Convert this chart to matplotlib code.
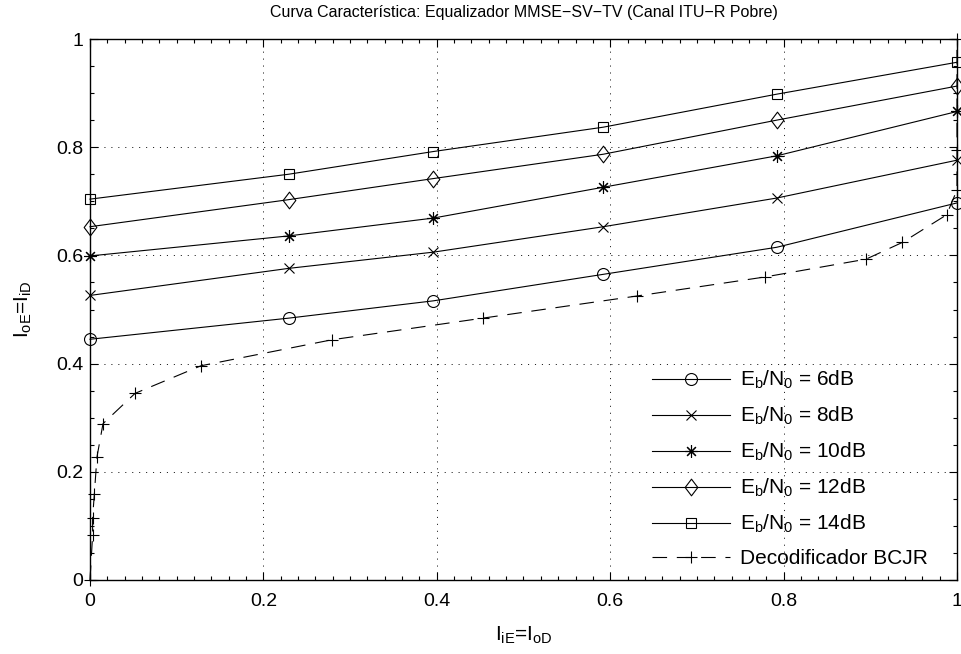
import matplotlib
matplotlib.use("Agg")
import matplotlib.pyplot as plt
from matplotlib.ticker import MultipleLocator, FixedLocator, FixedFormatter
from matplotlib.path import Path

plt.rcParams['font.family'] = ['Liberation Sans', 'DejaVu Sans']
plt.rcParams['mathtext.fontset'] = 'custom'
plt.rcParams['mathtext.rm'] = 'Liberation Sans'
plt.rcParams['mathtext.it'] = 'Liberation Sans'
plt.rcParams['mathtext.default'] = 'regular'
plt.rcParams['lines.scale_dashes'] = False

# ---- data ----
x_eq = [0.0, 0.229, 0.396, 0.592, 0.792, 1.0]
eq_6db = [0.445, 0.484, 0.516, 0.565, 0.615, 0.697]
eq_8db = [0.526, 0.576, 0.606, 0.653, 0.706, 0.776]
eq_10db = [0.599, 0.636, 0.669, 0.726, 0.784, 0.866]
eq_12db = [0.653, 0.703, 0.742, 0.787, 0.850, 0.913]
eq_14db = [0.704, 0.750, 0.792, 0.837, 0.898, 0.957]

bcjr_x = [0.0, 0.003, 0.003, 0.005, 0.008, 0.015, 0.052, 0.128, 0.279, 0.453,
          0.631, 0.778, 0.895, 0.937, 0.988, 1.0, 1.0, 1.0]
bcjr_y = [0.0, 0.083, 0.115, 0.159, 0.227, 0.289, 0.345, 0.396, 0.444, 0.484,
          0.525, 0.560, 0.593, 0.624, 0.675, 0.721, 0.795, 1.0]

labels = [r'$E_b/N_0$ = 6dB', r'$E_b/N_0$ = 8dB', r'$E_b/N_0$ = 10dB',
          r'$E_b/N_0$ = 12dB', r'$E_b/N_0$ = 14dB', 'Decodificador BCJR']
tick_vals = [0, 0.2, 0.4, 0.6, 0.8, 1]
tick_labels = ['0', '0.2', '0.4', '0.6', '0.8', '1']

title = 'Curva Característica: Equalizador MMSE\u2212SV\u2212TV (Canal ITU\u2212R Pobre)'
xlabel = r'$I_{iE}$=$I_{oD}$'
ylabel = r'$I_{oE}$=$I_{iD}$'

# tall diamond like MATLAB
diamond = Path([(0, 1), (0.76, 0), (0, -1), (-0.76, 0), (0, 1)],
               [Path.MOVETO, Path.LINETO, Path.LINETO, Path.LINETO, Path.CLOSEPOLY])

fig = plt.figure(figsize=(9.62, 6.54), dpi=100)
ax = fig.add_axes([90/962, 1-580/654, (957-90)/962, (580-39)/654])

FS = 14
LFS = 15
lw = 0.8
common = dict(color='black', lw=lw, clip_on=False, mfc='none', mec='black', mew=0.8)
ax.plot(x_eq, eq_6db, marker='o', ms=8.6, label=labels[0], **common)
ax.plot(x_eq, eq_8db, marker='x', ms=7, label=labels[1], **common)
ax.plot(x_eq, eq_10db, marker=(8, 2, 0), ms=9, label=labels[2], **common)
ax.plot(x_eq, eq_12db, marker=diamond, ms=12, label=labels[3], **common)
ax.plot(x_eq, eq_14db, marker='s', ms=7.8, label=labels[4], **common)
ax.plot(bcjr_x, bcjr_y, marker='+', ms=9, ls=(0, (10.5, 7)), label=labels[5], **common)

ax.set_xlim(0, 1)
ax.set_ylim(0, 1)
ax.xaxis.set_major_locator(FixedLocator(tick_vals))
ax.xaxis.set_major_formatter(FixedFormatter(tick_labels))
ax.yaxis.set_major_locator(FixedLocator(tick_vals))
ax.yaxis.set_major_formatter(FixedFormatter(tick_labels))
ax.xaxis.set_minor_locator(MultipleLocator(0.02))
ax.yaxis.set_minor_locator(MultipleLocator(0.05))
ax.tick_params(which='both', direction='in', top=True, right=True, width=0.8,
               labelsize=FS, colors='black')
ax.tick_params(axis='x', which='major', length=5.5, pad=9)
ax.tick_params(axis='y', which='major', length=5.5, pad=5)
ax.tick_params(which='minor', length=3)
for s in ax.spines.values():
    s.set_linewidth(1.0)
ax.grid(True, which='major', color='black', ls=(0, (0.8, 4.2)), lw=0.6)

ax.set_title(title, fontsize=11.5, pad=16)
ax.set_xlabel(xlabel, fontsize=LFS, labelpad=11)
ax.set_ylabel(ylabel, fontsize=LFS, labelpad=16)

leg = ax.legend(loc='upper left', bbox_to_anchor=(652/962, 1-369/654),
                bbox_transform=fig.transFigure, frameon=False,
                fontsize=LFS, handlelength=3.75, handletextpad=0.48,
                labelspacing=0.66, borderpad=0.0, borderaxespad=0.0)

fig.savefig('out.png', dpi=100, facecolor='white')
